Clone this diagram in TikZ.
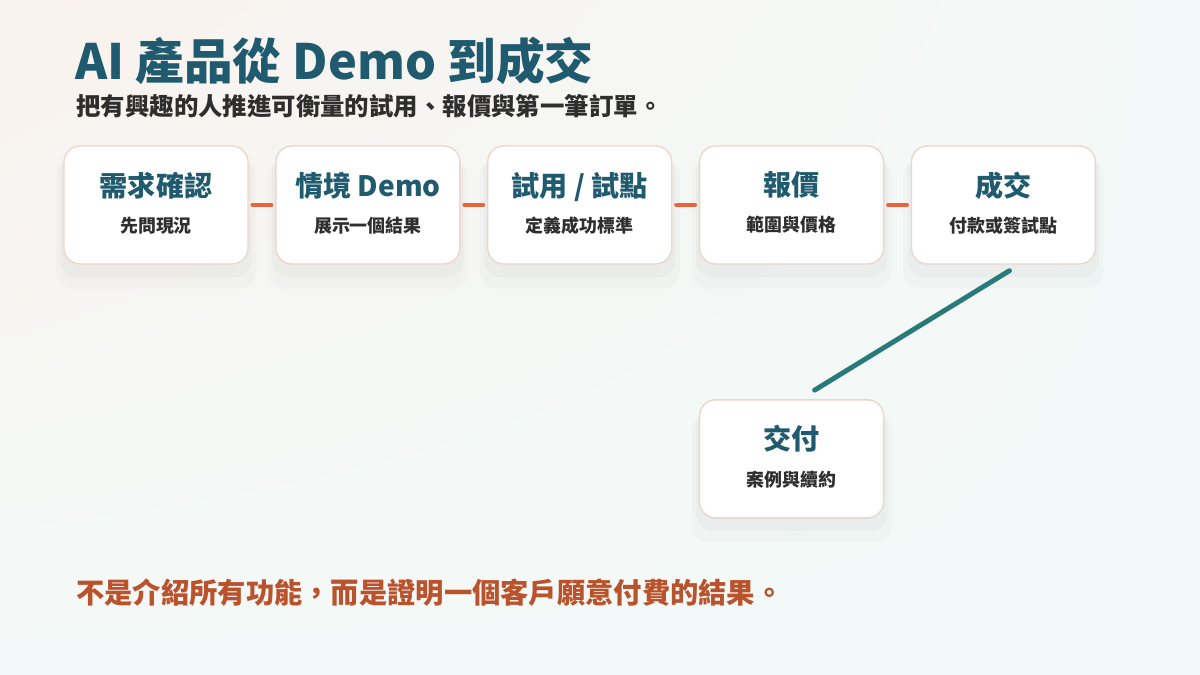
\documentclass[tikz,border=0pt]{standalone}
\usepackage{fontspec}
\setmainfont{Noto Sans CJK TC}
\usetikzlibrary{positioning,shadings,shadows}
\definecolor{ink}    {HTML}{1F5A6E}
\definecolor{body}   {HTML}{2E2E2E}
\definecolor{edge}   {HTML}{EDD6CB}
\definecolor{hopline}{HTML}{E8643D}
\definecolor{link}   {HTML}{287B78}
\definecolor{punch}  {HTML}{BA522B}
\definecolor{warm}   {HTML}{FAF2EE}
\definecolor{cool}   {HTML}{F3F9F8}

\newcommand{\stagetext}[2]{%
  {\fontsize{16}{16}\selectfont\bfseries\color{ink}#1}\\[8.5pt]%
  {\fontsize{10.2}{12}\selectfont\bfseries\color{body}#2}\rule[-3.5pt]{0pt}{0pt}}

\begin{document}
\begin{tikzpicture}[x=0.02cm,y=-0.02cm,
  stage/.style={draw=edge,line width=0.8pt,rounded corners=0.32cm,fill=white,
                minimum width=3.68cm,minimum height=2.36cm,align=center,
                inner sep=0pt,
                general shadow={fill=black,opacity=0.018,shadow yshift=-10pt,
                                shadow scale=1.09},
                general shadow={fill=black,opacity=0.022,shadow yshift=-6pt,
                                shadow scale=1.04}},
  hop/.style={draw=hopline,line width=2.8pt,line cap=round,
              shorten <=2.4pt,shorten >=2.4pt},
  lead/.style={draw=link,line width=2.8pt,line cap=round},
  txt/.style={inner sep=0pt,anchor=base west}]

% backdrop
\shade[upper left=warm,upper right=cool,lower left=cool,lower right=cool]
  (0,0) rectangle (1200,675);
\useasboundingbox (0,0) rectangle (1200,675);

% headings
\node[txt,font=\fontsize{27.7}{28}\selectfont\bfseries,text=ink] (title) at (75,80)
  {AI 產品從 Demo 到成交};
\node[txt,font=\fontsize{13.9}{14}\selectfont\bfseries,text=body] (lede) at (76,116)
  {把有興趣的人推進可衡量的試用、報價與第一筆訂單。};

% pipeline
\node[stage] (ask) at (156,205) {\stagetext{需求確認}{先問現況}};
\node[stage,right=0.53cm of ask]   (demo)  {\stagetext{情境 Demo}{展示一個結果}};
\node[stage,right=0.53cm of demo]  (pilot) {\stagetext{試用 / 試點}{定義成功標準}};
\node[stage,right=0.53cm of pilot] (quote) {\stagetext{報價}{範圍與價格}};
\node[stage,right=0.53cm of quote] (close) {\stagetext{成交}{付款或簽試點}};
\node[stage,below=2.69cm of quote] (deliver) {\stagetext{交付}{案例與續約}};

\draw[hop] (ask) -- (demo);
\draw[hop] (demo) -- (pilot);
\draw[hop] (pilot) -- (quote);
\draw[hop] (quote) -- (close);
\draw[lead] ([xshift=0.12cm,yshift=-0.12cm]close.south)
         -- ([xshift=0.46cm,yshift=0.18cm]deliver.north);

% takeaway
\node[txt,font=\fontsize{16.1}{16}\selectfont\bfseries,text=punch] (moral) at (76,603)
  {不是介紹所有功能，而是證明一個客戶願意付費的結果。};
\end{tikzpicture}
\end{document}
